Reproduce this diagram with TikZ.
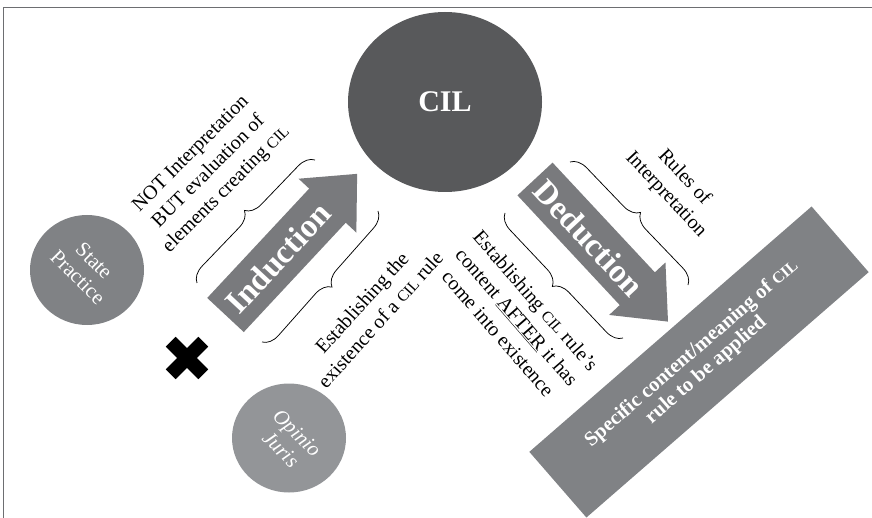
\documentclass[tikz,border=0pt]{standalone}
\usepackage{fontspec}
\setmainfont{Liberation Serif}
\usetikzlibrary{shapes.geometric,decorations.pathreplacing}
\definecolor{cildark}{HTML}{58595B}
\definecolor{spgray}{HTML}{808285}
\definecolor{ojgray}{HTML}{939598}
\definecolor{arrowgray}{HTML}{797A7D}
\definecolor{rectgray}{HTML}{808285}
\definecolor{framegray}{HTML}{6D6E71}
\newcommand{\cil}{\scalebox{0.78}{CIL}}
\begin{document}
\begin{tikzpicture}[x=1pt,y=-1pt,
  blob/.style={ellipse, inner sep=0pt},
  bracestyle/.style={decorate, decoration={brace, amplitude=16pt}, line width=0.75pt, black},
  bodytext/.style={align=center, font=\fontsize{20}{25}\selectfont, inner sep=0pt},
  circtext/.style={align=center, text=white, inner sep=0pt},
  bigword/.style={text=white, inner sep=0pt, font=\fontsize{33}{33}\selectfont\bfseries}]
\useasboundingbox (0,0) rectangle (872,518);
% frame
\draw[framegray, line width=1.5pt] (3.5,518) -- (3.5,7.5) -- (872,7.5);

% CIL circle
\node[blob, fill=cildark, minimum width=194pt, minimum height=180pt] (cil) at (445,102) {};
\node[text=white, font=\fontsize{30}{30}\selectfont\bfseries] (ciltext) at (cil) {CIL};

% State Practice
\node[blob, fill=spgray, minimum width=114pt, minimum height=110pt] (sp) at (87,270) {};
\node[circtext, rotate=-45, font=\fontsize{21}{23}\selectfont] (sptext) at (86,269) {State\\Practice};

% Opinio Juris
\node[blob, fill=ojgray, minimum width=114pt, minimum height=109pt] (oj) at (289,438) {};
\node[circtext, rotate=-45, font=\fontsize{21}{23}\selectfont\itshape] (ojtext) at (289,441) {Opinio\\Juris};

% cross
\begin{scope}[shift={(187,358)}, rotate=45]
  \fill[black] (-23,-7) rectangle (23,7);
  \fill[black] (-7,-23) rectangle (7,23);
\end{scope}

% Induction arrow
\begin{scope}[shift={(225.5,315)}, rotate=47]
  \fill[arrowgray] (0,-25) -- (149.5,-25) -- (149.5,-39.5) -- (193,0) -- (149.5,39.5) -- (149.5,25) -- (0,25) -- cycle;
\end{scope}
\node[bigword, rotate=47] (ind) at (278,258) {Induction};

% Deduction arrow
\begin{scope}[shift={(535,179)}, rotate=-47]
  \fill[arrowgray] (0,-24) -- (150,-24) -- (150,-38.5) -- (195,0) -- (150,38.5) -- (150,24) -- (0,24) -- cycle;
\end{scope}
\node[bigword, rotate=-47] (ded) at (589,238) {Deduction};

% braces
\coordinate (b1s) at (197,283); \coordinate (b1e) at (315,160);
\coordinate (b2s) at (378,211); \coordinate (b2e) at (262,342);
\coordinate (b3s) at (570,162); \coordinate (b3e) at (688,285);
\coordinate (b4s) at (623,338); \coordinate (b4e) at (505,213);
\draw[bracestyle] (b1s) -- (b1e);
\draw[bracestyle] (b2s) -- (b2e);
\draw[bracestyle] (b3s) -- (b3e);
\draw[bracestyle] (b4s) -- (b4e);

% texts
\node[bodytext, rotate=45] (t1) at (209,172) {NOT Interpretation\\BUT evaluation of\\elements creating \cil};
\node[bodytext, rotate=48] (t2) at (371,311) {Establishing the\\existence of a \cil\ rule};
\node[bodytext, rotate=-47] (t3) at (675,186) {Rules of\\Interpretation};
\node[bodytext, rotate=-49] (t4) at (517,317) {Establishing \cil\ rule's\\content \underline{AFTER} it has\\come into existence};

% result rectangle
\node[rectangle, fill=rectgray, minimum width=374pt, minimum height=87pt, rotate=41, inner sep=0pt,
      text=white, align=center, font=\fontsize{20.5}{22}\selectfont\bfseries] (res) at (699,362)
      {Specific content/meaning of \cil\\rule to be applied};
\end{tikzpicture}
\end{document}
